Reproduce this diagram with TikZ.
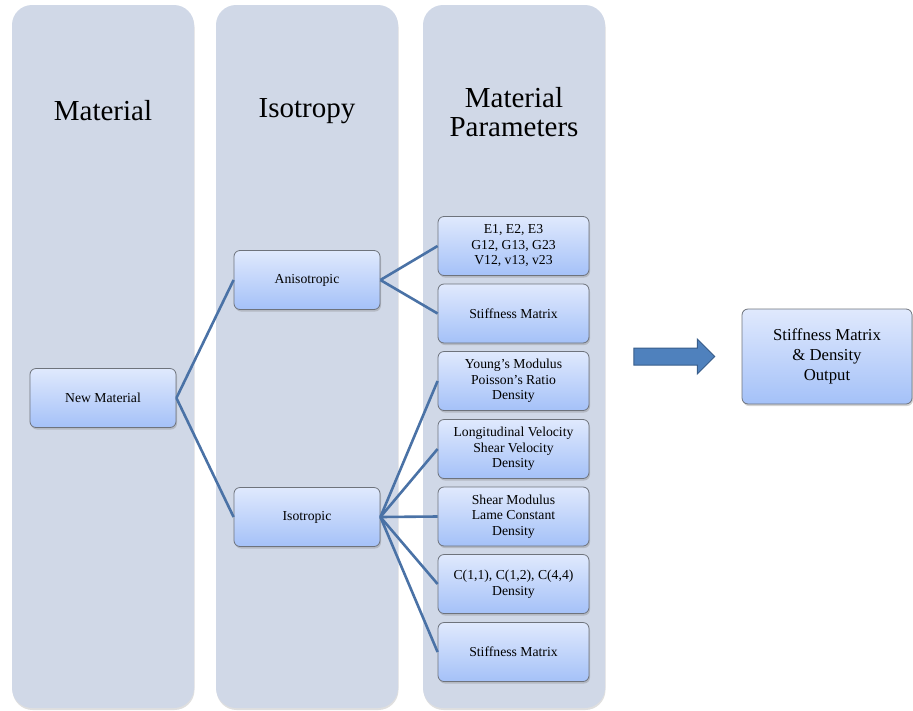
\documentclass[tikz,border=0pt]{standalone}
\usepackage{fontspec}
\setmainfont{Liberation Serif}
\usetikzlibrary{shadows,shapes.arrows,positioning}

\definecolor{colfill}{HTML}{D0D8E7}
\definecolor{boxtop}{HTML}{E0E9FD}
\definecolor{boxbot}{HTML}{A4C1F8}
\definecolor{boxline}{HTML}{6E737C}
\definecolor{linkblue}{HTML}{4A72A6}
\definecolor{arrowfill}{HTML}{4F81BD}
\definecolor{arrowline}{HTML}{385D8A}

\tikzset{
    column/.style={rectangle, fill=colfill, rounded corners=20pt,
        minimum width=182pt, minimum height=703pt, inner sep=0pt,
        drop shadow={opacity=0.25, shadow xshift=0.5pt, shadow yshift=-2pt}},
    heading/.style={align=center, font=\fontsize{29}{29}\selectfont},
    box/.style={rectangle, rounded corners=6pt, draw=boxline, line width=0.8pt,
        top color=boxtop, bottom color=boxbot, minimum width=146pt,
        minimum height=59pt, align=center, inner sep=2pt,
        font=\fontsize{13.7}{15.5}\selectfont,
        drop shadow={opacity=0.35, shadow xshift=1pt, shadow yshift=-2pt}},
    wide/.style={box, minimum width=151pt},
    link/.style={draw=linkblue, line width=2.6pt}
}

\begin{document}
\begin{tikzpicture}[x=1pt, y=-1pt]
    \useasboundingbox (0, 0) rectangle (913, 710);

    % колонки
    \node[column] (colmat) at (103, 356.5) {};
    \node[column] (coliso) at (307, 356.5) {};
    \node[column] (colpar) at (514, 356.5) {};
    \node[heading] (hmat) at (103, 111) {Material};
    \node[heading] (hiso) at (307, 111) {Isotropy};
    \node[heading] (hpar) at (514, 112) {Material\\Parameters};

    % материал и изотропия
    \node[box] (newmat) at (103, 398) {New Material};
    \node[box] (aniso) at (307, 280) {Anisotropic};
    \node[box] (iso) at (307, 517) {Isotropic};

    % параметры
    \node[wide] (engc) at (513.5, 246) {E1, E2, E3\\G12, G13, G23\\V12, v13, v23};
    \node[wide] (astiff) at (513.5, 313.5) {Stiffness Matrix};
    \node[wide] (young) at (513.5, 381) {Young's Modulus\\Poisson's Ratio\\Density};
    \node[wide] (veloc) at (513.5, 449) {Longitudinal Velocity\\Shear Velocity\\Density};
    \node[wide] (lame) at (513.5, 516.5) {Shear Modulus\\Lame Constant\\Density};
    \node[wide] (cij) at (513.5, 584) {C(1,1), C(1,2), C(4,4)\\Density};
    \node[wide] (istiff) at (513.5, 652) {Stiffness Matrix};

    % выход
    \node[single arrow, fill=arrowfill, draw=arrowline, line width=1pt,
        minimum height=81pt, single arrow head extend=9pt,
        single arrow head indent=0pt, inner xsep=0pt, inner ysep=8pt]
        (flow) at (670, 356.5) {};
    \node[box, minimum width=170pt, minimum height=95pt,
        font=\fontsize{16.7}{20}\selectfont] (output) at (827, 356.5)
        {Stiffness Matrix\\\& Density\\Output};

    % связи
    \draw[link] (newmat.east) -- (aniso.west);
    \draw[link] (newmat.east) -- (iso.west);
    \draw[link] (aniso.east) -- (engc.west);
    \draw[link] (aniso.east) -- (astiff.west);
    \draw[link] (iso.east) -- (young.west);
    \draw[link] (iso.east) -- (veloc.west);
    \draw[link] (iso.east) -- (lame.west);
    \draw[link] (iso.east) -- (cij.west);
    \draw[link] (iso.east) -- (istiff.west);
\end{tikzpicture}
\end{document}
